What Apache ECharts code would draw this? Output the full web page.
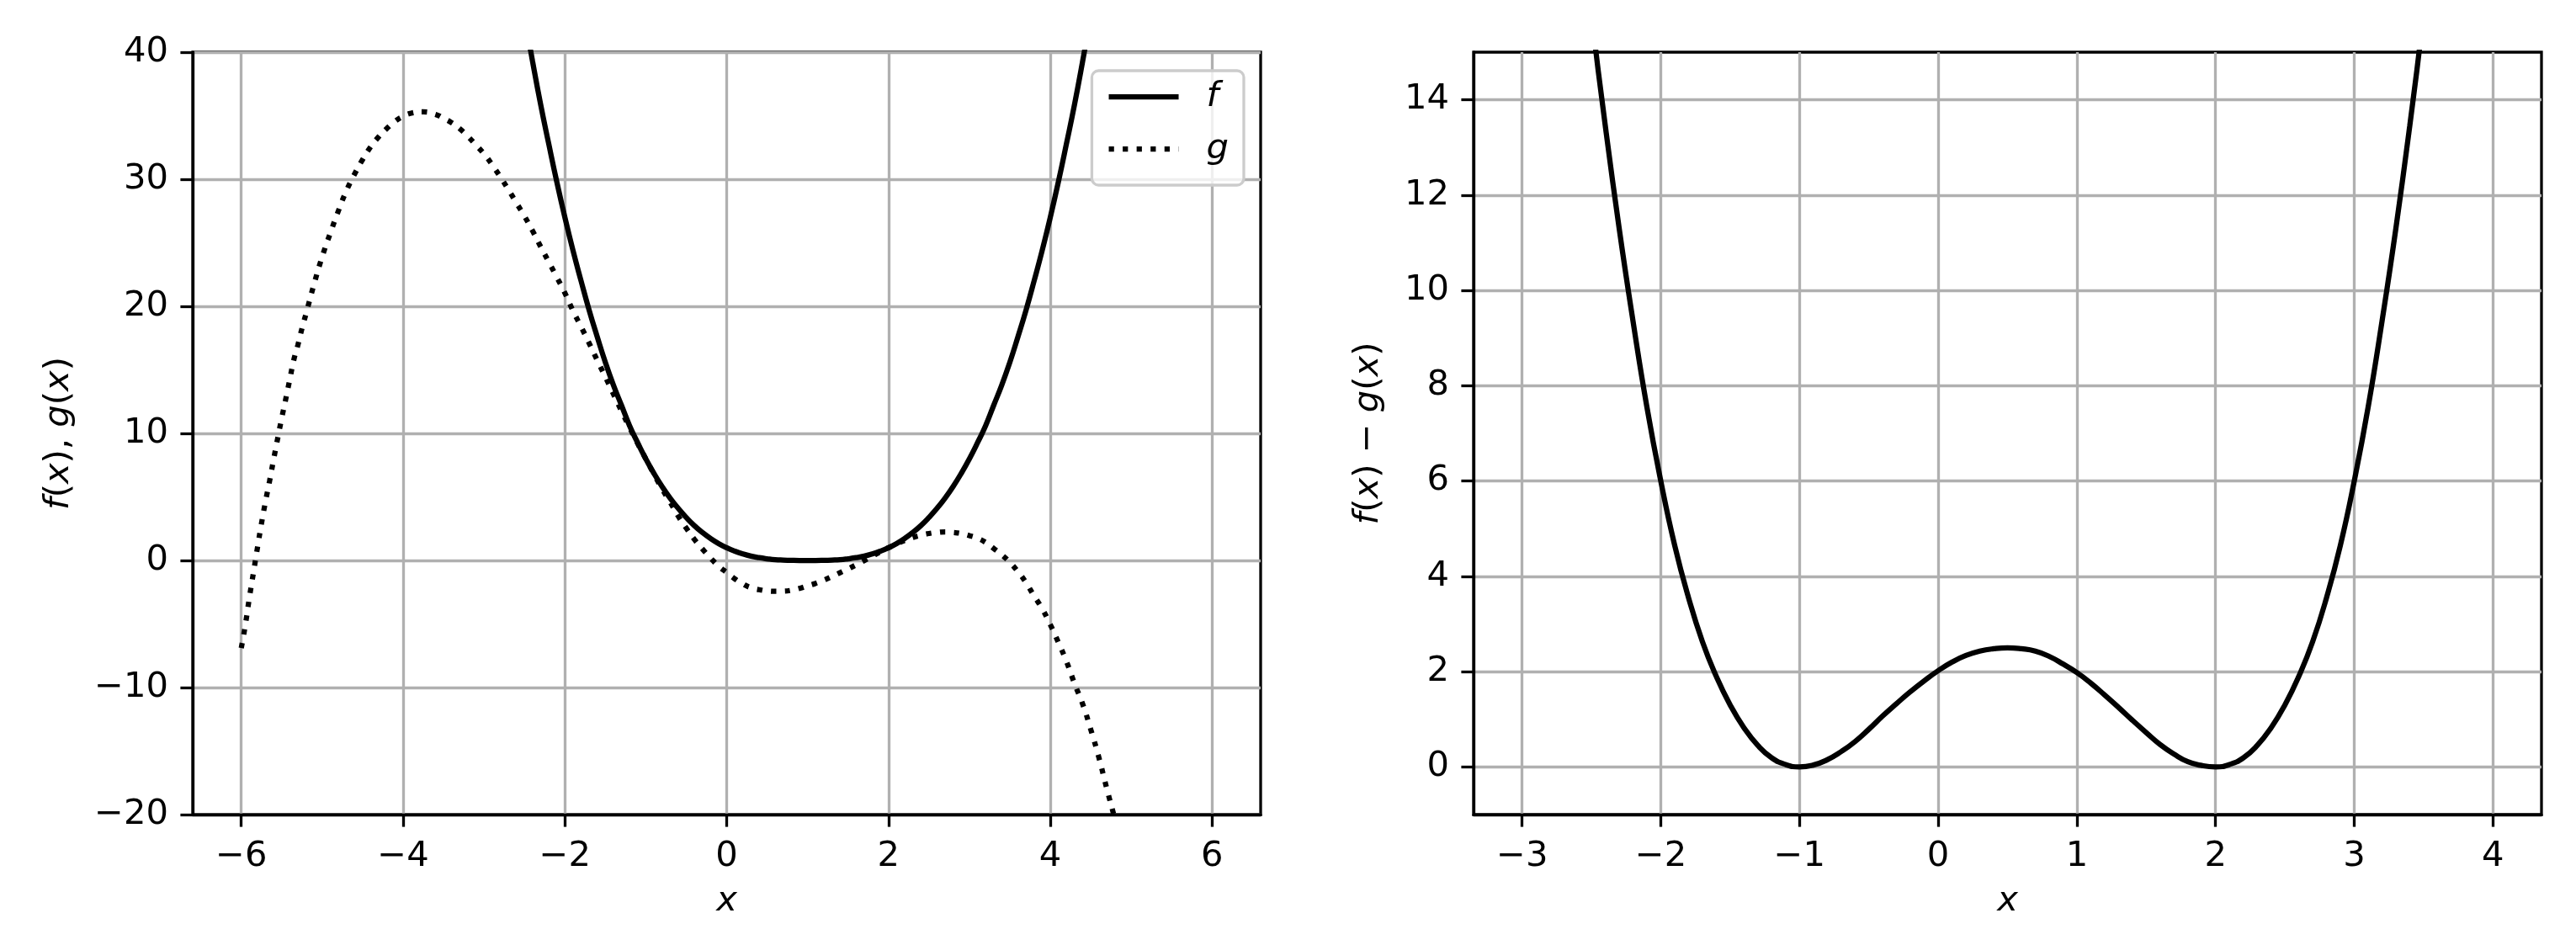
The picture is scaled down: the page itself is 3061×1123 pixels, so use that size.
<!DOCTYPE html>
<html>
<head>
<meta charset="utf-8">
<script src="https://cdn.jsdelivr.net/npm/echarts@6/dist/echarts.min.js"></script>
<style>
html,body{margin:0;padding:0;background:#ffffff;}
#chart{width:3061px;height:1123px;}
</style>
</head>
<body>
<div id="chart"></div>
<script>
// ---------- data ----------
// f (solid, left panel)
const fX = [-2.6,-2.5,-2.4,-2.3,-2.2,-2.1,-2.0,-1.9,-1.8,-1.7,
            -1.6,-1.5,-1.4,-1.3,-1.2,-1.1,-1.0,-0.9,-0.8,-0.7,
            -0.6,-0.5,-0.4,-0.3,-0.2,-0.1,0.0,0.1,0.2,0.3,
            0.4,0.5,0.6,0.7,0.8,0.9,1.0,1.1,1.2,1.3,
            1.4,1.5,1.6,1.7,1.8,1.9,2.0,2.1,2.2,2.3,
            2.4,2.5,2.6,2.7,2.8,2.9,3.0,3.1,3.2,3.3,
            3.4,3.5,3.6,3.7,3.8,3.9,4.0,4.1,4.2,4.3,
            4.4,4.5,4.6];
const fY = [46.7,42.9,39.3,35.9,32.8,29.8,27.0,24.4,22.0,19.7,
            17.6,15.6,13.8,12.2,10.6,9.26,8.0,6.86,5.83,4.91,
            4.10,3.38,2.74,2.20,1.73,1.33,1.0,0.73,0.51,0.34,
            0.22,0.13,0.06,0.03,0.01,0.0,0.0,0.0,0.01,0.03,
            0.06,0.13,0.22,0.34,0.51,0.73,1.0,1.33,1.73,2.20,
            2.74,3.38,4.10,4.91,5.83,6.86,8.0,9.26,10.6,12.2,
            13.8,15.6,17.6,19.7,22.0,24.4,27.0,29.8,32.8,35.9,
            39.3,42.9,46.7];

// g (dotted, left panel)
const gX = [-6.0,-5.95,-5.9,-5.85,-5.8,-5.75,-5.7,-5.65,-5.6,-5.55,
            -5.5,-5.45,-5.4,-5.35,-5.3,-5.25,-5.2,-5.1,-5.0,-4.9,
            -4.8,-4.7,-4.6,-4.5,-4.4,-4.3,-4.2,-4.1,-4.0,-3.9,
            -3.75,-3.6,-3.5,-3.4,-3.3,-3.2,-3.1,-3.0,-2.9,-2.8,
            -2.7,-2.6,-2.5,-2.4,-2.3,-2.2,-2.1,-2.0,-1.9,-1.8,
            -1.7,-1.6,-1.5,-1.4,-1.3,-1.2,-1.1,-1.0,-0.9,-0.8,
            -0.7,-0.6,-0.5,-0.4,-0.3,-0.2,-0.1,0.0,0.1,0.2,
            0.3,0.4,0.5,0.6,0.7,0.8,0.9,1.0,1.1,1.2,
            1.3,1.4,1.5,1.6,1.7,1.8,1.9,2.0,2.1,2.2,
            2.3,2.4,2.5,2.6,2.7,2.8,2.9,3.0,3.1,3.2,
            3.3,3.4,3.5,3.6,3.7,3.8,3.9,4.0,4.1,4.2,
            4.3,4.4,4.5,4.6,4.7,4.8,4.9,5.0];
const gY = [-6.9,-5.1,-2.95,-0.98,0.99,2.91,4.65,6.25,7.95,9.6,
            11.2,12.7,14.25,15.8,16.95,18.25,19.4,21.75,23.9,25.75,
            27.5,29.1,30.4,31.55,32.55,33.35,34.0,34.55,34.95,35.2,
            35.3,35.1,34.8,34.45,33.98,33.38,32.7,32.0,31.15,30.2,
            29.2,28.15,27.1,25.95,24.7,23.5,22.3,21.05,19.65,18.4,
            17.1,15.75,14.45,13.1,11.75,10.45,9.2,8.0,6.8,5.65,
            4.6,3.5,2.55,1.66,0.9,0.2,-0.45,-0.95,-1.45,-1.85,
            -2.15,-2.3,-2.4,-2.43,-2.42,-2.35,-2.2,-2.0,-1.8,-1.55,
            -1.27,-0.97,-0.66,-0.35,-0.01,0.33,0.68,1.0,1.3,1.57,
            1.8,1.98,2.12,2.2,2.24,2.2,2.12,1.96,1.75,1.42,
            0.95,0.45,-0.15,-0.88,-1.75,-2.8,-3.8,-5.05,-6.45,-7.95,
            -9.7,-11.3,-13.3,-15.5,-18.0,-20.4,-23.0,-25.6];

// f - g (right panel)
const hX = [-2.7,-2.6,-2.5,-2.4,-2.3,-2.2,-2.1,-2.0,-1.9,-1.8,
            -1.7,-1.6,-1.5,-1.4,-1.3,-1.2,-1.1,-1.0,-0.9,-0.8,
            -0.7,-0.6,-0.5,-0.4,-0.3,-0.2,-0.1,0.0,0.1,0.2,
            0.3,0.4,0.5,0.6,0.7,0.8,0.9,1.0,1.1,1.2,
            1.3,1.4,1.5,1.6,1.7,1.8,1.9,2.0,2.1,2.2,
            2.3,2.4,2.5,2.6,2.7,2.8,2.9,3.0,3.1,3.2,
            3.3,3.4,3.5,3.6,3.7];
const hY = [21.2,18.4,15.8,13.45,11.3,9.35,7.55,6.0,4.65,3.55,
            2.63,1.9,1.3,0.82,0.45,0.19,0.05,0.0,0.04,0.15,
            0.32,0.53,0.79,1.07,1.33,1.58,1.81,2.02,2.2,2.34,
            2.43,2.48,2.5,2.48,2.43,2.32,2.16,1.98,1.76,1.51,
            1.25,0.98,0.72,0.47,0.27,0.11,0.03,0.0,0.05,0.19,
            0.45,0.82,1.3,1.9,2.63,3.55,4.65,6.0,7.55,9.35,
            11.3,13.45,15.8,18.4,21.2];

// ticks
const leftXTicks  = [-6,-4,-2,0,2,4,6];
const leftYTicks  = [-20,-10,0,10,20,30,40];
const rightXTicks = [-3,-2,-1,0,1,2,3,4];
const rightYTicks = [0,2,4,6,8,10,12,14];

// ---------- chart ----------
const FONT = 'DejaVu Sans';
const FS = 41.7;
const LW = 6.25;
const AXW = 3.3;
const GRIDC = '#b0b0b0';

function fmt(v){ return String(v).replace('-', '\u2212'); }
function pairs(xs, ys){ return xs.map(function(x, i){ return [x, ys[i]]; }); }

function makeAxis(kind, gridIndex, min, max, ticks, name, nameGap){
  const ax = {
    type: 'value', gridIndex: gridIndex, min: min, max: max,
    name: name, nameLocation: 'middle', nameGap: nameGap,
    nameTextStyle: {
      fontFamily: FONT, fontSize: FS, color: '#000',
      rich: { i: { fontFamily: FONT, fontSize: FS, fontStyle: 'italic', color: '#000' } }
    },
    axisLine: { show: true, onZero: false, lineStyle: { color: '#000', width: AXW } },
    axisTick: { show: true, inside: false, length: 14.6, lineStyle: { color: '#000', width: AXW }, customValues: ticks },
    axisLabel: { show: true, margin: 29, fontFamily: FONT, fontSize: FS, color: '#000', formatter: fmt, customValues: ticks },
    splitLine: { show: true, lineStyle: { color: GRIDC, width: AXW } }
  };
  if (kind === 'y') { ax.position = 'left'; ax.nameRotate = 90; }
  else { ax.position = 'bottom'; }
  return ax;
}

const chart = echarts.init(document.getElementById('chart'), null, { renderer: 'canvas', width: 3061, height: 1123 });

const option = {
  backgroundColor: '#ffffff',
  animation: false,
  grid: [
    { left: 229, top: 62, width: 1269, height: 906, show: true, borderColor: '#000', borderWidth: AXW, backgroundColor: 'transparent' },
    { left: 1751, top: 62, width: 1269, height: 906, show: true, borderColor: '#000', borderWidth: AXW, backgroundColor: 'transparent' }
  ],
  xAxis: [
    makeAxis('x', 0, -6.6, 6.6, leftXTicks, '{i|x}', 82),
    makeAxis('x', 1, -3.35, 4.35, rightXTicks, '{i|x}', 82)
  ],
  yAxis: [
    makeAxis('y', 0, -20, 40, leftYTicks, '{i|f}({i|x}), {i|g}({i|x})', 138),
    makeAxis('y', 1, -1, 15, rightYTicks, '{i|f}({i|x}) \u2212 {i|g}({i|x})', 104)
  ],
  legend: {
    data: ['f', 'g'],
    orient: 'vertical',
    right: 3061 - 1478,
    top: 84,
    itemWidth: 83,
    itemHeight: 20,
    itemGap: 20,
    padding: [10, 18, 22, 17],
    backgroundColor: 'rgba(255,255,255,0.8)',
    borderColor: '#cccccc',
    borderWidth: 3.3,
    borderRadius: 8,
    itemStyle: { opacity: 0 },
    lineStyle: { width: LW, opacity: 1 },
    textStyle: { fontFamily: FONT, fontSize: FS, fontStyle: 'italic', color: '#000', padding: [0, 0, 0, 28] }
  },
  series: [
    {
      name: 'f', type: 'line', xAxisIndex: 0, yAxisIndex: 0,
      data: pairs(fX, fY), showSymbol: false, symbol: 'none', smooth: 0.5, clip: true,
      lineStyle: { color: '#000', width: LW, type: 'solid' }, itemStyle: { color: '#000' }
    },
    {
      name: 'g', type: 'line', xAxisIndex: 0, yAxisIndex: 0,
      data: pairs(gX, gY), showSymbol: false, symbol: 'none', smooth: 0.5, clip: true,
      lineStyle: { color: '#000', width: LW, type: [6.25, 10.3], cap: 'butt' }, itemStyle: { color: '#000' }
    },
    {
      name: 'h', type: 'line', xAxisIndex: 1, yAxisIndex: 1,
      data: pairs(hX, hY), showSymbol: false, symbol: 'none', smooth: 0.5, clip: true,
      lineStyle: { color: '#000', width: LW, type: 'solid' }, itemStyle: { color: '#000' }
    }
  ]
};
chart.setOption(option);
</script>
</body>
</html>
